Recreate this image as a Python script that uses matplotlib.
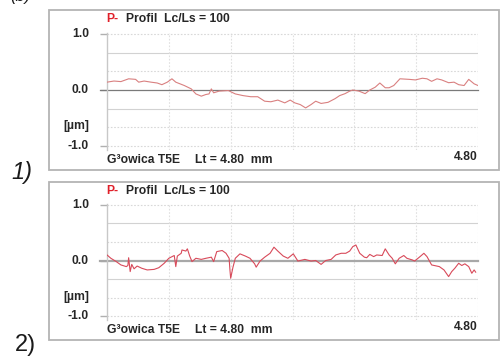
import matplotlib
matplotlib.use("Agg")
import matplotlib.pyplot as plt
from matplotlib.patches import Rectangle

# Profile 1: position along the trace [mm] and height [µm]
x1_mm = [0.00, 0.09, 0.18, 0.28, 0.37, 0.41, 0.48, 0.57, 0.65, 0.71, 0.78, 0.84, 0.89,
         1.00, 1.09, 1.15, 1.22, 1.28, 1.32, 1.35, 1.38, 1.45, 1.57, 1.66, 1.76, 1.86,
         1.95, 2.04, 2.12, 2.21, 2.30, 2.37, 2.43, 2.50, 2.57, 2.64, 2.70, 2.77, 2.86,
         2.95, 3.01, 3.08, 3.14, 3.18, 3.26, 3.34, 3.40, 3.47, 3.53, 3.60, 3.65, 3.71,
         3.79, 3.91, 3.99, 4.08, 4.14, 4.20, 4.27, 4.33, 4.42, 4.49, 4.55, 4.62, 4.68,
         4.75, 4.80]
z1_um = [0.14, 0.16, 0.15, 0.20, 0.19, 0.14, 0.16, 0.14, 0.125, 0.095, 0.14, 0.20, 0.14,
         0.08, 0.02, -0.07, -0.11, -0.08, -0.07, 0.02, -0.05, -0.02, -0.01, -0.07, -0.10,
         -0.12, -0.12, -0.20, -0.21, -0.18, -0.23, -0.18, -0.23, -0.26, -0.32, -0.26,
         -0.20, -0.24, -0.22, -0.155, -0.10, -0.065, -0.02, 0.00, -0.02, -0.065, 0.00,
         0.05, 0.125, 0.04, 0.04, 0.08, 0.20, 0.19, 0.18, 0.21, 0.20, 0.155, 0.20, 0.18,
         0.13, 0.14, 0.095, 0.08, 0.19, 0.11, 0.08]

# Profile 2
x2_mm = [0.00, 0.05, 0.12, 0.18, 0.25, 0.27, 0.28, 0.30, 0.32, 0.35, 0.39, 0.45, 0.52,
         0.61, 0.67, 0.74, 0.80, 0.87, 0.89, 0.91, 0.96, 0.97, 1.02, 1.04, 1.07, 1.10,
         1.15, 1.22, 1.28, 1.35, 1.38, 1.42, 1.49, 1.54, 1.58, 1.59, 1.60, 1.63, 1.66,
         1.72, 1.79, 1.85, 1.91, 1.93, 1.98, 2.04, 2.11, 2.16, 2.21, 2.28, 2.34, 2.41,
         2.47, 2.56, 2.64, 2.70, 2.77, 2.83, 2.90, 2.96, 3.03, 3.09, 3.14, 3.18, 3.22,
         3.27, 3.33, 3.36, 3.40, 3.45, 3.49, 3.56, 3.60, 3.65, 3.69, 3.73, 3.78, 3.84,
         3.88, 3.95, 3.98, 4.05, 4.10, 4.14, 4.20, 4.30, 4.36, 4.42, 4.46, 4.50, 4.55,
         4.59, 4.63, 4.68, 4.72, 4.75, 4.77]
z2_um = [0.10, 0.04, -0.02, -0.08, -0.11, -0.09, 0.05, -0.20, -0.07, -0.15, -0.10, -0.14,
         -0.17, -0.16, -0.13, -0.05, 0.04, 0.09, -0.11, 0.08, 0.13, 0.19, 0.17, 0.21,
         0.08, -0.02, 0.04, 0.02, 0.04, 0.06, -0.02, 0.16, 0.18, 0.13, 0.04, -0.16,
         -0.32, -0.12, 0.04, 0.12, 0.08, 0.04, -0.06, -0.12, -0.01, 0.06, 0.13, 0.24,
         0.17, 0.08, 0.04, 0.12, -0.01, 0.02, -0.01, 0.00, -0.07, 0.00, 0.02, 0.10,
         0.13, 0.13, 0.17, 0.25, 0.28, 0.13, 0.06, 0.05, 0.11, 0.07, 0.10, 0.09, 0.21,
         0.10, 0.04, -0.06, 0.04, 0.09, 0.04, 0.01, -0.01, 0.07, 0.13, 0.07, -0.08,
         -0.11, -0.17, -0.29, -0.20, -0.14, -0.05, -0.09, -0.06, -0.11, -0.23, -0.17,
         -0.21]

y_ticks = [1.0, 0.0, -1.0]
y_tick_labels = ["1.0", "0.0", "-1.0"]
title_prefix = "P-"
title_rest = "Profil  Lc/Ls = 100"
footer_name = "G³owica T5E"
footer_length = "Lt = 4.80  mm"
footer_right = "4.80"
unit_label = "[µm]"
panel_tags = ["1)", "2)"]

W, H = 500, 356
fig = plt.figure(figsize=(W / 100, H / 100), dpi=100)
fig.patch.set_facecolor("white")

FONT = ["Liberation Sans", "DejaVu Sans"]
TAG_FONT = ["Liberation Sans Narrow", "Liberation Sans", "DejaVu Sans"]
FS = 8.7
TXT = "#262626"


def fx(px):
    return px / W


def fy(py):
    return 1 - py / H


def label(px, py, s, ha="left", color=TXT, size=FS):
    fig.text(fx(px), fy(py), s, ha=ha, va="center", fontsize=size,
             fontweight="bold", color=color, family=FONT)


def draw_panel(box, plot_x, y_pos, xs, zs, line_color, zero_color, zero_lw, tag, tag_style, tag_xy):
    bx0, by0, bx1, by1 = box
    fig.patches.append(Rectangle((fx(bx0), fy(by1)), fx(bx1 - bx0), (by1 - by0) / H,
                                 transform=fig.transFigure, fill=False,
                                 edgecolor="#b4b4b4", linewidth=1.3, zorder=0))
    y_top, y_bot = y_pos  # pixel rows of +1.0 and -1.0
    scale = (y_bot - y_top) / 2.0
    ylo, yhi = -1.07, 1.02
    ax_top = y_top - (yhi - 1.0) * scale
    ax_bot = y_bot + (-1.0 - ylo) * scale
    ax = fig.add_axes([fx(plot_x[0]), fy(ax_bot), fx(plot_x[1] - plot_x[0]), (ax_bot - ax_top) / H])
    ax.set_xlim(0, 4.8)
    ax.set_ylim(ylo, yhi)
    ax.patch.set_alpha(0)
    for s in ("top", "right", "bottom"):
        ax.spines[s].set_visible(False)
    ax.spines["left"].set_color("#c8c8c8")
    ax.spines["left"].set_linewidth(1.0)
    ax.set_xticks([])
    ax.set_yticks(y_ticks)
    ax.set_yticklabels([])
    ax.tick_params(axis="y", length=5, color="#b0b0b0", width=1.0)

    # horizontal grid
    for yv in (0.667, -0.333):
        ax.axhline(yv, color="#d2d2d2", lw=0.8, zorder=1)
    for yv in (1.0, 0.333, -0.667, -1.0):
        ax.axhline(yv, color="#d8d8d8", lw=0.8, ls=(0, (1.5, 1.5)), zorder=1)
    # vertical grid every 0.8 mm
    for xv in [0.8, 1.6, 2.4, 3.2, 4.0, 4.8]:
        ax.axvline(xv, color="#e0e0e0", lw=0.8, ls=(0, (1.5, 1.5)), zorder=1)
    ax.plot([-0.09, 4.8], [0, 0], color=zero_color, lw=zero_lw, zorder=2, clip_on=False)

    ax.plot(xs, zs, color=line_color, lw=0.8, zorder=3)

    # y labels
    for v, lab in zip(y_ticks, y_tick_labels):
        label(89, y_top + (1.0 - v) * scale, lab, ha="right")
    label(89, y_top + 1.65 * scale, unit_label, ha="right")

    # title
    label(106, by0 + 9, title_prefix, color="#e0202a")
    label(126, by0 + 9, title_rest)
    # footer
    label(107, by1 - 10, footer_name)
    label(195, by1 - 10, footer_length)
    label(478, by1 - 13, footer_right, ha="right")
    # panel tag
    fig.text(fx(tag_xy[0]), fy(tag_xy[1]), tag, ha="left", va="center", fontsize=17,
             style=tag_style, color="#1a1a1a", family=TAG_FONT)


draw_panel((49, 10, 499, 170), (107, 478), (34, 146), x1_mm, z1_um,
           "#d98080", "#7a7a7a", 0.9, panel_tags[0], "italic", (11, 172))
draw_panel((49, 182, 499, 340), (107, 478), (205, 316), x2_mm, z2_um,
           "#d84a5a", "#a8a8a8", 1.6, panel_tags[1], "normal", (15, 345))

# caption fragment at the top edge
fig.text(fx(10), fy(-3), "(b)", ha="left", va="center", fontsize=12,
         style="italic", color="#1a1a1a", family=TAG_FONT)

fig.savefig("out.png", dpi=100)
